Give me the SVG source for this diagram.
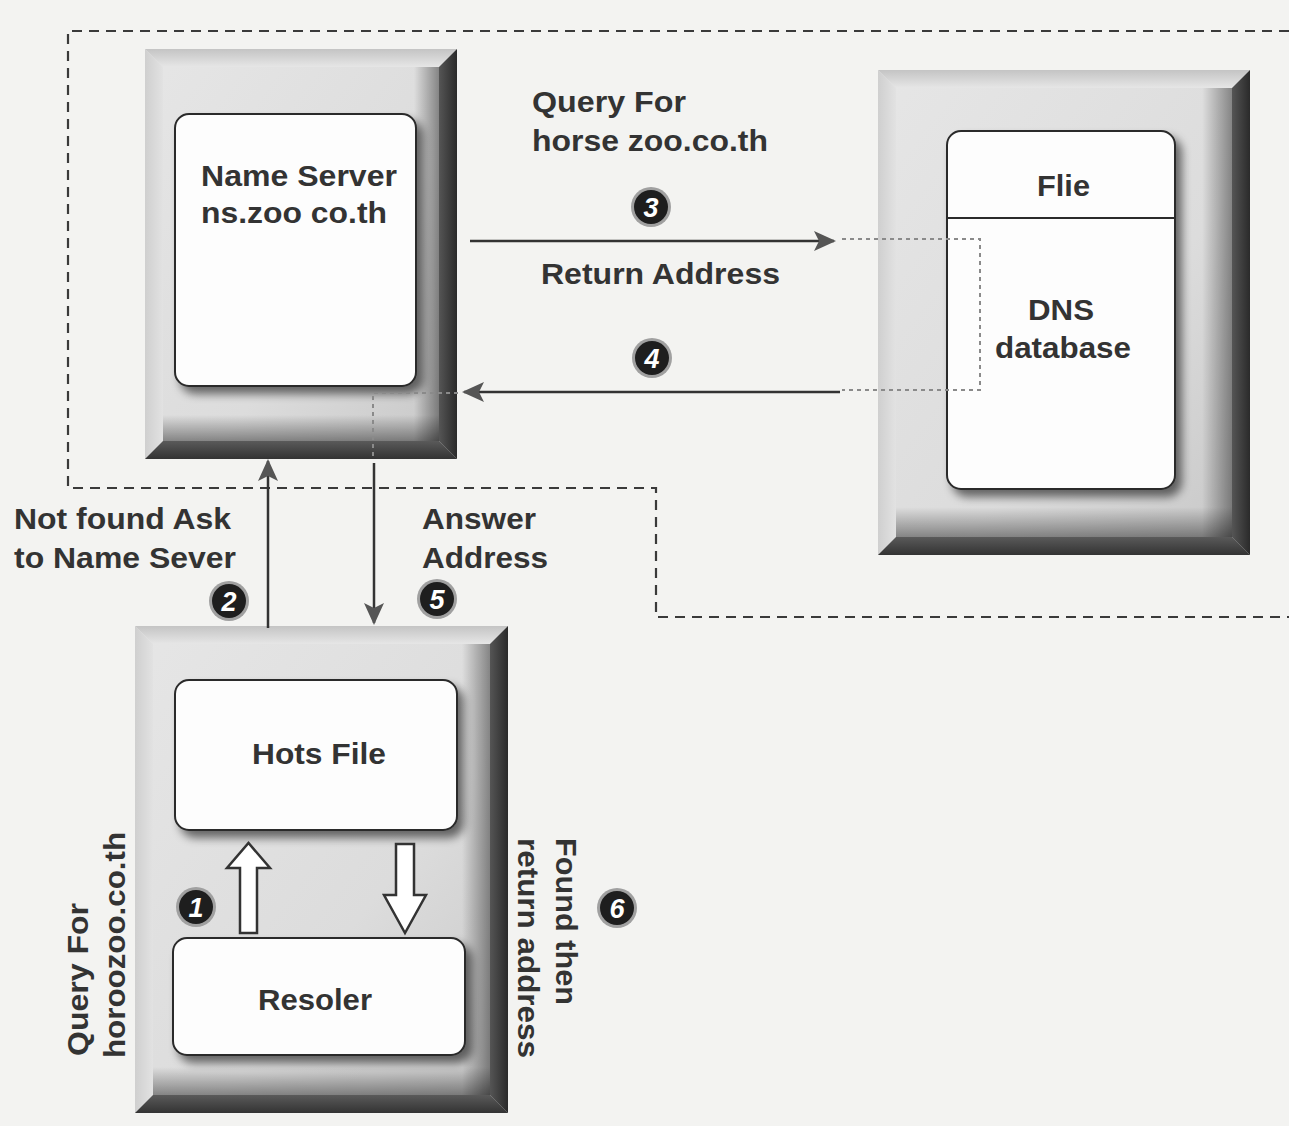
<svg xmlns="http://www.w3.org/2000/svg" width="1289" height="1126" viewBox="0 0 1289 1126">
<style>
.lbl{font-family:"Liberation Sans",Arial,sans-serif;font-weight:bold;font-size:30px;fill:#333;}
.num{font-family:"Liberation Sans",Arial,sans-serif;font-weight:bold;font-style:italic;font-size:27px;fill:#fff;text-anchor:middle;}
.box{fill:#fdfdfd;stroke:#2a2a2a;stroke-width:2;filter:url(#shadow);}
.face{fill:url(#faceG);}
.faceR{fill:url(#faceRight);}
.faceB{fill:url(#faceBottom);}
.bt{fill:url(#bevTop);}
.bl{fill:url(#bevLeft);}
.br{fill:url(#bevRight);}
.bb{fill:url(#bevBottom);}
.solid{stroke:#333;stroke-width:2.5;fill:none;}
.dot{stroke:#8a8a8a;stroke-width:2;stroke-dasharray:4 4;fill:none;}
.border{stroke:#3a3a3a;stroke-width:2.2;stroke-dasharray:10 7;fill:none;}
.halo{fill:#a0a0a0;}
.badge{fill:#1e1e1e;}
.block{fill:#fff;stroke:#333;stroke-width:2.5;stroke-linejoin:miter;}
</style>
<defs>
<linearGradient id="faceG" x1="0" y1="0" x2="1" y2="1">
<stop offset="0" stop-color="#e6e6e6"/>
<stop offset="0.6" stop-color="#dcdcdc"/>
<stop offset="1" stop-color="#c6c6c6"/>
</linearGradient>
<linearGradient id="faceRight" x1="0" y1="0" x2="1" y2="0">
<stop offset="0" stop-color="#000" stop-opacity="0"/>
<stop offset="1" stop-color="#000" stop-opacity="0.4"/>
</linearGradient>
<linearGradient id="faceBottom" x1="0" y1="0" x2="0" y2="1">
<stop offset="0" stop-color="#000" stop-opacity="0"/>
<stop offset="1" stop-color="#000" stop-opacity="0.4"/>
</linearGradient>
<linearGradient id="bevTop" x1="0" y1="0" x2="0" y2="1">
<stop offset="0" stop-color="#c4c4c4"/>
<stop offset="1" stop-color="#e6e6e6"/>
</linearGradient>
<linearGradient id="bevLeft" x1="0" y1="0" x2="1" y2="0">
<stop offset="0" stop-color="#cfcfcf"/>
<stop offset="1" stop-color="#e2e2e2"/>
</linearGradient>
<linearGradient id="bevRight" x1="0" y1="0" x2="1" y2="0">
<stop offset="0" stop-color="#555"/>
<stop offset="1" stop-color="#2a2a2a"/>
</linearGradient>
<linearGradient id="bevBottom" x1="0" y1="0" x2="0" y2="1">
<stop offset="0" stop-color="#5a5a5a"/>
<stop offset="1" stop-color="#333"/>
</linearGradient>
<filter id="shadow" x="-10%" y="-10%" width="130%" height="130%">
<feGaussianBlur in="SourceAlpha" stdDeviation="5"/>
<feOffset dx="6" dy="7" result="b"/>
<feComponentTransfer><feFuncA type="linear" slope="0.55"/></feComponentTransfer>
<feMerge><feMergeNode/><feMergeNode in="SourceGraphic"/></feMerge>
</filter>
<marker id="ah" markerUnits="userSpaceOnUse" markerWidth="24" markerHeight="22" refX="20" refY="11" orient="auto">
<path d="M0,1 L22,11 L0,21 L5,11 z" fill="#555"/>
</marker>
</defs>

<rect x="0" y="0" width="1289" height="1126" fill="#f3f3f1"/>

<g id="region-border">
<path class="border" d="M1289,31 L68,31 L68,488 L656,488 L656,617 L1289,617"/>
</g>

<g id="name-server">
<rect class="face" x="145" y="49" width="312" height="410"/>
<rect class="faceR" x="414" y="67" width="25" height="374"/>
<rect class="faceB" x="163" y="415" width="276" height="26"/>
<polygon class="bt" points="145,49 457,49 439,67 163,67"/>
<polygon class="bl" points="145,49 163,67 163,441 145,459"/>
<polygon class="br" points="457,49 457,459 439,441 439,67"/>
<polygon class="bb" points="145,459 457,459 439,441 163,441"/>
<rect class="box" x="175" y="114" width="241" height="272" rx="14"/>
<text class="lbl" x="201" y="186" textLength="196" lengthAdjust="spacingAndGlyphs">Name Server</text>
<text class="lbl" x="201" y="223" textLength="186" lengthAdjust="spacingAndGlyphs">ns.zoo co.th</text>
</g>

<g id="dns-server">
<rect class="face" x="878" y="70" width="372" height="485"/>
<rect class="faceR" x="1202" y="88" width="30" height="449"/>
<rect class="faceB" x="896" y="507" width="336" height="30"/>
<polygon class="bt" points="878,70 1250,70 1232,88 896,88"/>
<polygon class="bl" points="878,70 896,88 896,537 878,555"/>
<polygon class="br" points="1250,70 1250,555 1232,537 1232,88"/>
<polygon class="bb" points="878,555 1250,555 1232,537 896,537"/>
<rect class="box" x="947" y="131" width="228" height="358" rx="14"/>
<line x1="947" y1="218" x2="1175" y2="218" stroke="#2a2a2a" stroke-width="2"/>
<text class="lbl" x="1037" y="196" textLength="53" lengthAdjust="spacingAndGlyphs">Flie</text>
<text class="lbl" x="1028" y="320" textLength="66" lengthAdjust="spacingAndGlyphs">DNS</text>
<text class="lbl" x="995" y="358" textLength="136" lengthAdjust="spacingAndGlyphs">database</text>
</g>

<g id="client-host">
<rect class="face" x="135" y="626" width="373" height="487"/>
<rect class="faceR" x="462" y="644" width="28" height="451"/>
<rect class="faceB" x="153" y="1067" width="337" height="28"/>
<polygon class="bt" points="135,626 508,626 490,644 153,644"/>
<polygon class="bl" points="135,626 153,644 153,1095 135,1113"/>
<polygon class="br" points="508,626 508,1113 490,1095 490,644"/>
<polygon class="bb" points="135,1113 508,1113 490,1095 153,1095"/>
</g>

<g id="hosts-file">
<rect class="box" x="175" y="680" width="282" height="150" rx="14"/>
<text class="lbl" x="252" y="764" textLength="134" lengthAdjust="spacingAndGlyphs">Hots File</text>
</g>

<g id="resolver">
<rect class="box" x="173" y="938" width="292" height="117" rx="14"/>
<text class="lbl" x="258" y="1010" textLength="114" lengthAdjust="spacingAndGlyphs">Resoler</text>
</g>

<g id="connectors">
<line class="solid" x1="470" y1="241" x2="834" y2="241" marker-end="url(#ah)"/>
<path class="dot" d="M842,239 L980,239 L980,390 L842,390"/>
<line class="solid" x1="840" y1="392" x2="464" y2="392" marker-end="url(#ah)"/>
<path class="dot" d="M458,393 L373,393 L373,458"/>
<line class="solid" x1="374" y1="463" x2="374" y2="623" marker-end="url(#ah)"/>
<line class="solid" x1="268" y1="628" x2="268" y2="461" marker-end="url(#ah)"/>
<polygon class="block" points="240,933 257,933 257,868 270,868 248.5,843 227,868 240,868"/>
<polygon class="block" points="396,844 414,844 414,895 426,895 405,933 384,895 396,895"/>
</g>

<g id="badges">
<circle class="halo" cx="196" cy="907" r="20"/><circle class="badge" cx="196" cy="907" r="17"/><text class="num" x="196" y="917">1</text>
<circle class="halo" cx="229" cy="601" r="20"/><circle class="badge" cx="229" cy="601" r="17"/><text class="num" x="229" y="611">2</text>
<circle class="halo" cx="651" cy="207" r="20"/><circle class="badge" cx="651" cy="207" r="17"/><text class="num" x="651" y="217">3</text>
<circle class="halo" cx="652" cy="358" r="20"/><circle class="badge" cx="652" cy="358" r="17"/><text class="num" x="652" y="368">4</text>
<circle class="halo" cx="437" cy="599" r="20"/><circle class="badge" cx="437" cy="599" r="17"/><text class="num" x="437" y="609">5</text>
<circle class="halo" cx="617" cy="908" r="20"/><circle class="badge" cx="617" cy="908" r="17"/><text class="num" x="617" y="918">6</text>
</g>

<g id="labels">
<text class="lbl" x="532" y="112" textLength="154" lengthAdjust="spacingAndGlyphs">Query For</text>
<text class="lbl" x="532" y="151" textLength="236" lengthAdjust="spacingAndGlyphs">horse zoo.co.th</text>
<text class="lbl" x="541" y="284" textLength="239" lengthAdjust="spacingAndGlyphs">Return Address</text>
<text class="lbl" x="14" y="529" textLength="217" lengthAdjust="spacingAndGlyphs">Not found Ask</text>
<text class="lbl" x="14" y="568" textLength="222" lengthAdjust="spacingAndGlyphs">to Name Sever</text>
<text class="lbl" x="422" y="529" textLength="114" lengthAdjust="spacingAndGlyphs">Answer</text>
<text class="lbl" x="422" y="568" textLength="126" lengthAdjust="spacingAndGlyphs">Address</text>
<text class="lbl" transform="translate(88,1056) rotate(-90)" x="0" y="0" textLength="153" lengthAdjust="spacingAndGlyphs">Query For</text>
<text class="lbl" transform="translate(125,1058) rotate(-90)" x="0" y="0" textLength="226" lengthAdjust="spacingAndGlyphs">horoozoo.co.th</text>
<text class="lbl" transform="translate(556,838) rotate(90)" x="0" y="0" textLength="167" lengthAdjust="spacingAndGlyphs">Found then</text>
<text class="lbl" transform="translate(518,838) rotate(90)" x="0" y="0" textLength="220" lengthAdjust="spacingAndGlyphs">return address</text>
</g>
</svg>
